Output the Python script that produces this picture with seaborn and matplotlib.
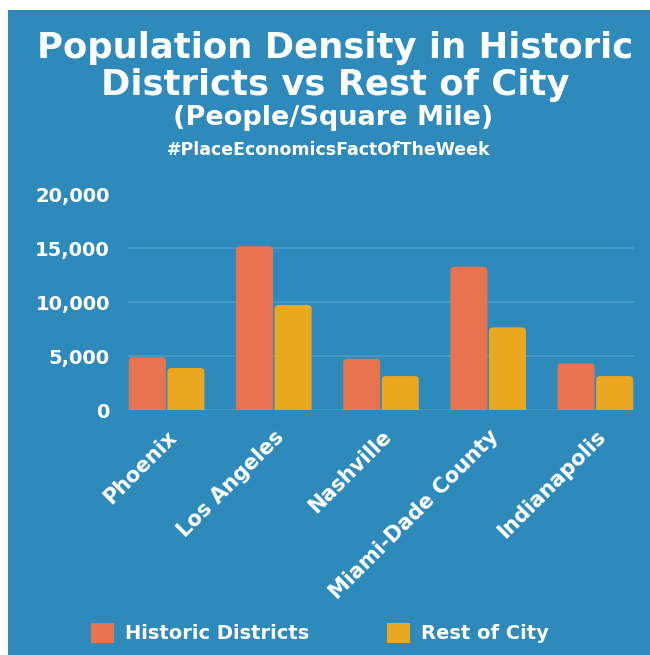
import matplotlib
matplotlib.use("Agg")
import matplotlib.pyplot as plt
from matplotlib.patches import FancyBboxPatch, Rectangle
import seaborn as sns
import pandas as pd

cities = ["Phoenix", "Los Angeles", "Nashville", "Miami-Dade County", "Indianapolis"]
historic = [4900, 15200, 4750, 13300, 4330]
rest = [3900, 9750, 3150, 7670, 3150]
series = ["Historic Districts", "Rest of City"]
yticks = [0, 5000, 10000, 15000, 20000]
ytick_labels = ["0", "5,000", "10,000", "15,000", "20,000"]

BG = "#2D8ABA"
ORANGE = "#E8744F"
YELLOW = "#EAA820"
GRID = "#4B9DCB"
FONT = "DejaVu Sans"

df = pd.DataFrame({
    "city": cities * 2,
    "value": historic + rest,
    "series": [series[0]] * len(cities) + [series[1]] * len(cities),
})

sns.set_theme(style="white")
plt.rcParams["font.family"] = [FONT]

W, H = 650, 655
fig = plt.figure(figsize=(6.5, 6.55), dpi=100)
fig.patch.set_facecolor("white")
fig.patches.append(Rectangle((8 / W, 0), 1 - 8 / W, 1 - 10 / H, transform=fig.transFigure,
                             facecolor=BG, edgecolor="none", zorder=-10))

ax = fig.add_axes([128 / W, 1 - 410 / H, (634 - 128) / W, (410 - 194.5) / H])
ax.set_facecolor(BG)
ax.patch.set_alpha(0)

sns.barplot(data=df, x="city", y="value", hue="series", order=cities, hue_order=series,
            palette=[ORANGE, YELLOW], saturation=1, width=0.72, gap=0.04, ax=ax, legend=True)

ax.set_xlim(-0.36, len(cities) - 1 + 0.36)
ax.set_ylim(0, 20000)

# rounded top corners
px_x = (ax.get_xlim()[1] - ax.get_xlim()[0]) / (634 - 128)
px_y = 20000 / (410 - 194.5)
r = 4 * px_x
for p in list(ax.patches):
    if isinstance(p, Rectangle) and p.get_height() > 0:
        x, y = p.get_x(), p.get_y()
        w, h = p.get_width(), p.get_height()
        fb = FancyBboxPatch((x, y - 6 * px_y), w, h + 6 * px_y,
                            boxstyle=f"round,pad=0,rounding_size={r}",
                            mutation_aspect=px_y / px_x,
                            facecolor=p.get_facecolor(), edgecolor="none", zorder=3)
        p.set_visible(False)
        ax.add_patch(fb)

ax.set_yticks(yticks)
ax.set_yticklabels(ytick_labels)
for y in yticks:
    ax.axhline(y, color=GRID, lw=1.2, zorder=1)
for s in ax.spines.values():
    s.set_visible(False)
ax.set_xlabel("")
ax.set_ylabel("")
ax.tick_params(axis="y", length=0, pad=13, labelsize=14, labelcolor="white")
ax.tick_params(axis="x", length=0, pad=12, labelsize=15, labelcolor="white")
for t in ax.get_yticklabels():
    t.set_fontweight("bold")
for t in ax.get_xticklabels():
    t.set_fontweight("bold")
    t.set_rotation(45)
    t.set_ha("right")
    t.set_rotation_mode("anchor")

handles, labels = ax.get_legend_handles_labels()
ax.get_legend().remove()
for hnd in handles:
    hnd.set_edgecolor("none")
    hnd.set_linewidth(0)
leg = fig.legend(handles, labels, loc="center", bbox_to_anchor=(320 / W, 1 - 633 / H), ncol=2,
                 frameon=False, handlelength=1.2, handleheight=1.2, handletextpad=0.55,
                 columnspacing=4.0, prop={"weight": "bold", "size": 14})
for t in leg.get_texts():
    t.set_color("white")

fig.text(335 / W, 1 - 48 / H, "Population Density in Historic", ha="center", va="center",
         color="white", fontsize=25.5, fontweight="bold")
fig.text(335 / W, 1 - 85 / H, "Districts vs Rest of City", ha="center", va="center",
         color="white", fontsize=25.5, fontweight="bold")
fig.text(333 / W, 1 - 118 / H, "(People/Square Mile)", ha="center", va="center",
         color="white", fontsize=19.5, fontweight="bold")
fig.text(329 / W, 1 - 150 / H, "#PlaceEconomicsFactOfTheWeek", ha="center", va="center",
         color="white", fontsize=12.5, fontweight="bold")

fig.savefig("out.png", dpi=100, facecolor="white")
